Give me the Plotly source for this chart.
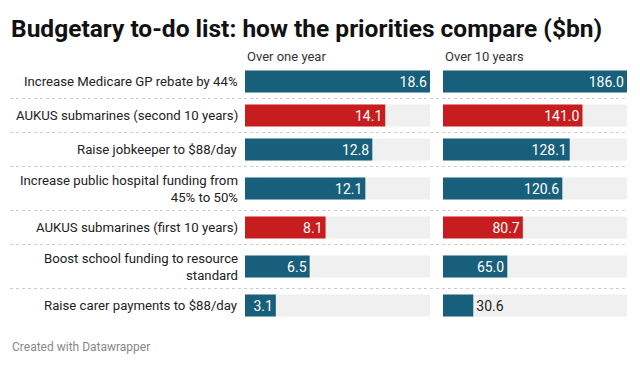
import plotly.graph_objects as go

# ---- data ----
categories = [
    "Increase Medicare GP rebate by 44%",
    "AUKUS submarines (second 10 years)",
    "Raise jobkeeper to $88/day",
    "Increase public hospital funding from<br>45% to 50%",
    "AUKUS submarines (first 10 years)",
    "Boost school funding to resource<br>standard",
    "Raise carer payments to $88/day",
]
one_year = [18.6, 14.1, 12.8, 12.1, 8.1, 6.5, 3.1]
ten_years = [186.0, 141.0, 128.1, 120.6, 80.7, 65.0, 30.6]
is_aukus = [False, True, False, False, True, False, False]
col_titles = ["Over one year", "Over 10 years"]
title = "Budgetary to-do list: how the priorities compare ($bn)"
footer = "Created with Datawrapper"

# ---- styling ----
# page body has an 8px margin, so the figure is offset by 8px
OFF = 8
W, H = 640 - 2 * OFF, 365 - 2 * OFF
BLUE = "#175f7a"
RED = "#c81d1e"
BG = "#f0f0f0"
FONT = "Roboto"
colors = [RED if a else BLUE for a in is_aukus]

# row layout: rows with 2-line labels are taller (pixel units)
row_h = [44 if "<br>" in c else 34 for c in categories]
centers = []
acc = 0
for h in row_h:
    centers.append(acc + h / 2)
    acc += h
total = acc
plot_top = 64.5
plot_bot = plot_top + total

def px_x(p):
    return (p - OFF) / W

def px_y(p):
    return 1 - (p - OFF) / H

fig = go.Figure()

panels = [(one_year, "x", "y", 245, 430), (ten_years, "x2", "y", 443, 627)]
for vals, xa, ya, x0, x1 in panels:
    vmax = max(vals)
    fig.add_trace(go.Bar(
        x=[vmax] * len(vals), y=centers, orientation="h", width=22,
        marker=dict(color=BG, line=dict(width=0)), xaxis=xa, yaxis=ya,
        hoverinfo="skip", showlegend=False,
    ))
    bar_w_px = x1 - x0
    positions = ["inside" if v / vmax * bar_w_px > 32 or (v / vmax * bar_w_px > 24 and v < 10) else "outside" for v in vals]
    fig.add_trace(go.Bar(
        x=vals, y=centers, orientation="h", width=22,
        marker=dict(color=colors, line=dict(width=0)), xaxis=xa, yaxis=ya,
        text=[f"{v:.1f}" for v in vals], textposition=positions,
        insidetextanchor="end", textangle=0, constraintext="none",
        insidetextfont=dict(color="white", size=14, family=FONT),
        outsidetextfont=dict(color="#222", size=14, family=FONT),
        cliponaxis=False, showlegend=False,
    ))

fig.update_layout(
    width=W, height=H, margin=dict(l=0, r=0, t=0, b=0),
    paper_bgcolor="white", plot_bgcolor="white", barmode="overlay",
    font=dict(family=FONT, color="#333"),
    xaxis=dict(domain=[px_x(245), px_x(430)], range=[0, max(one_year)], visible=False, fixedrange=True),
    xaxis2=dict(domain=[px_x(443), px_x(627)], range=[0, max(ten_years)], visible=False, fixedrange=True),
    yaxis=dict(domain=[px_y(plot_bot), px_y(plot_top)], range=[total, 0], visible=False, fixedrange=True),
)

annotations = [
    dict(text=f"<b>{title}</b>", x=px_x(9), y=px_y(28), xref="paper", yref="paper",
         xanchor="left", yanchor="middle", showarrow=False,
         font=dict(size=24.5, family=FONT, color="#111")),
    dict(text=footer, x=px_x(10), y=px_y(347), xref="paper", yref="paper",
         xanchor="left", yanchor="middle", showarrow=False,
         font=dict(size=12, family=FONT, color="#888")),
]
for t, xp in zip(col_titles, [245, 443]):
    annotations.append(dict(text=t, x=px_x(xp), y=px_y(57), xref="paper", yref="paper",
                            xanchor="left", yanchor="middle", showarrow=False,
                            font=dict(size=13, family=FONT, color="#333")))
for c, yc in zip(categories, centers):
    annotations.append(dict(text=c, x=px_x(240), y=yc, xref="paper", yref="y",
                            xanchor="right", yanchor="middle", align="right", showarrow=False,
                            font=dict(size=13.2, family=FONT, color="#222")))
fig.update_layout(annotations=annotations)

shapes = []
acc = 0
for h in row_h[:-1]:
    acc += h
    shapes.append(dict(type="line", xref="paper", yref="y", x0=px_x(10), x1=px_x(627),
                       y0=acc, y1=acc, line=dict(color="#cccccc", width=1, dash="dot")))
fig.update_layout(shapes=shapes)

fig.write_html("out.html")
